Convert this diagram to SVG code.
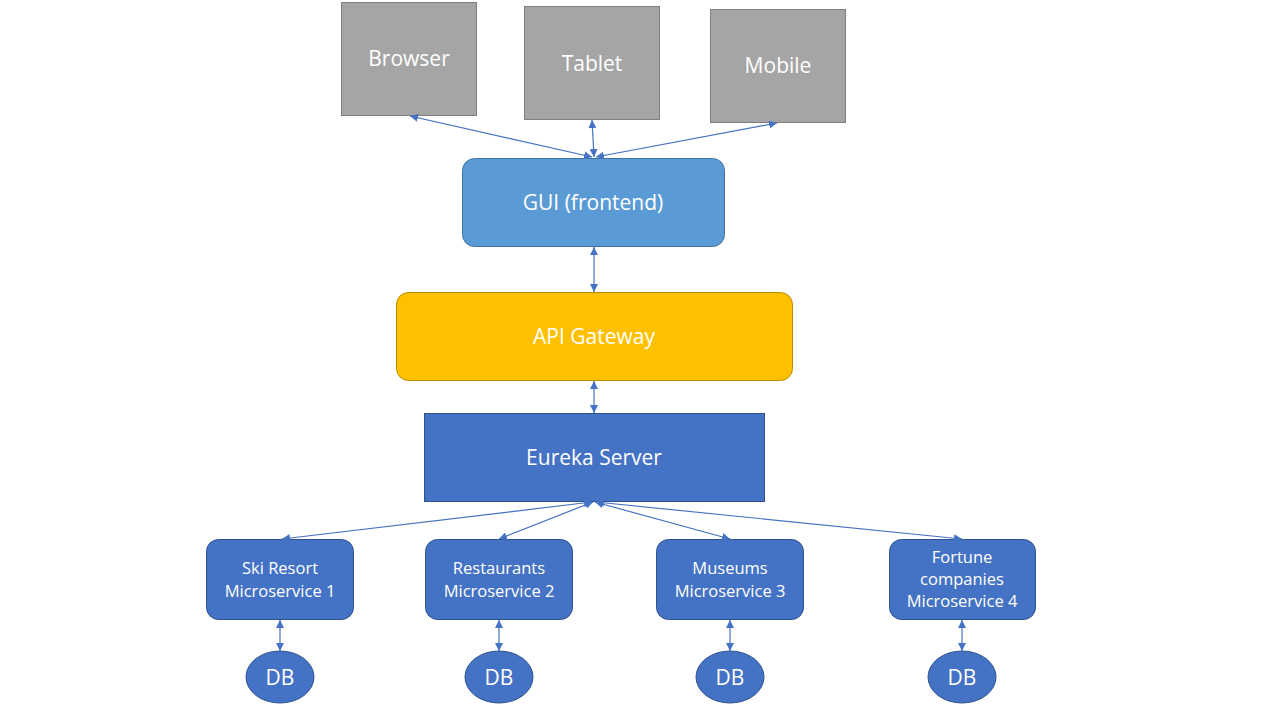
<svg xmlns="http://www.w3.org/2000/svg" width="1280" height="720" viewBox="0 0 1280 720">
<style>
text{font-family:"Open Sans","Noto Sans","DejaVu Sans",sans-serif;fill:#fff;text-anchor:middle;dominant-baseline:central}
.dev{fill:#a5a5a5;stroke:#7f7f7f;stroke-width:1}
.ms{fill:#4472c4;stroke:#2f528f;stroke-width:1}
.lg{font-size:21px}
.sm{font-size:16.5px}
.con line{stroke:#4472c4;stroke-width:1.2;marker-start:url(#ah);marker-end:url(#ah)}
</style>
<defs>
<marker id="ah" viewBox="0 0 10 10" refX="10" refY="5" markerWidth="8" markerHeight="8" markerUnits="userSpaceOnUse" orient="auto-start-reverse">
<path d="M0,0 L10,5 L0,10 z" fill="#4472c4"/>
</marker>
</defs>
<rect width="1280" height="720" fill="#fff"/>
<g id="browser"><rect class="dev" x="341.5" y="2.5" width="135" height="113"/><text class="lg" x="409" y="58">Browser</text></g>
<g id="tablet"><rect class="dev" x="524.5" y="6.5" width="135" height="113"/><text class="lg" x="592" y="63">Tablet</text></g>
<g id="mobile"><rect class="dev" x="710.5" y="9.5" width="135" height="113"/><text class="lg" x="778" y="65">Mobile</text></g>
<g id="gui"><rect x="462.5" y="158.5" width="262" height="88" rx="12" fill="#5b9bd5" stroke="#41719c"/><text class="lg" x="593" y="202">GUI (frontend)</text></g>
<g id="gateway"><rect x="396.5" y="292.5" width="396" height="88" rx="12" fill="#ffc000" stroke="#bc8c00"/><text class="lg" x="594" y="336">API Gateway</text></g>
<g id="eureka"><rect class="ms" x="424.5" y="413.5" width="340" height="88"/><text class="lg" x="594" y="457">Eureka Server</text></g>
<g id="ms1"><rect class="ms" x="206.5" y="539.5" width="147" height="80" rx="12"/><text class="sm" x="280" y="567">Ski Resort</text><text class="sm" x="280" y="590">Microservice 1</text></g>
<g id="ms2"><rect class="ms" x="425.5" y="539.5" width="147" height="80" rx="12"/><text class="sm" x="499" y="567">Restaurants</text><text class="sm" x="499" y="590">Microservice 2</text></g>
<g id="ms3"><rect class="ms" x="656.5" y="539.5" width="147" height="80" rx="12"/><text class="sm" x="730" y="567">Museums</text><text class="sm" x="730" y="590">Microservice 3</text></g>
<g id="ms4"><rect class="ms" x="889.5" y="539.5" width="146" height="80" rx="12"/><text class="sm" x="962" y="556">Fortune</text><text class="sm" x="962" y="578">companies</text><text class="sm" x="962" y="600">Microservice 4</text></g>
<g id="db1"><ellipse class="ms" cx="280" cy="677" rx="34" ry="26"/><text class="lg" x="280" y="677">DB</text></g>
<g id="db2"><ellipse class="ms" cx="499" cy="677" rx="34" ry="26"/><text class="lg" x="499" y="677">DB</text></g>
<g id="db3"><ellipse class="ms" cx="730" cy="677" rx="34" ry="26"/><text class="lg" x="730" y="677">DB</text></g>
<g id="db4"><ellipse class="ms" cx="962" cy="677" rx="34" ry="26"/><text class="lg" x="962" y="677">DB</text></g>
<g id="connectors" class="con">
<line x1="410" y1="116" x2="592" y2="157"/>
<line x1="592" y1="120" x2="594" y2="157"/>
<line x1="777" y1="123" x2="596" y2="157"/>
<line x1="594" y1="247" x2="594" y2="292"/>
<line x1="594" y1="381" x2="594" y2="413"/>
<line x1="592" y1="502" x2="282" y2="539"/>
<line x1="593" y1="502" x2="499" y2="539"/>
<line x1="595" y1="502" x2="730" y2="539"/>
<line x1="596" y1="502" x2="962" y2="539"/>
<line x1="280" y1="620" x2="280" y2="651"/>
<line x1="499" y1="620" x2="499" y2="651"/>
<line x1="730" y1="620" x2="730" y2="651"/>
<line x1="962" y1="620" x2="962" y2="651"/>
</g>
</svg>
